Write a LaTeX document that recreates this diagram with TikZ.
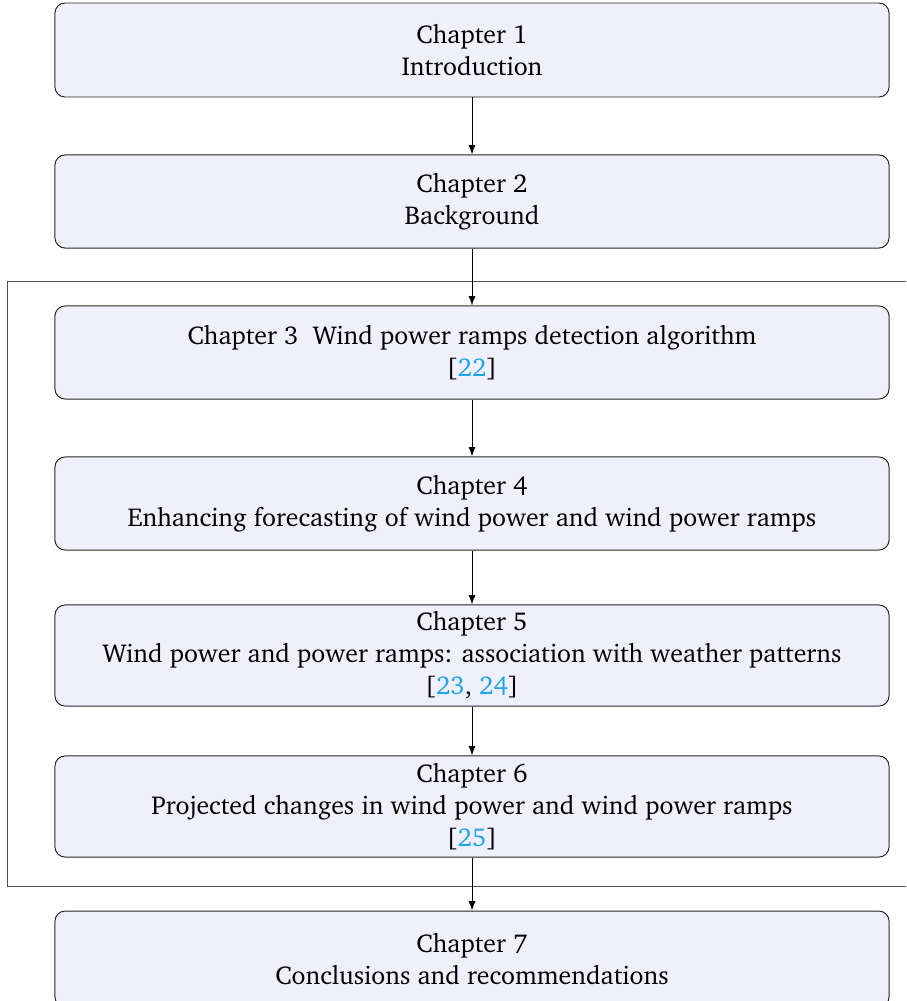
\documentclass[tikz,border=0pt]{standalone}
\usepackage[T1]{fontenc}
\usepackage{charter}
\usetikzlibrary{arrows.meta}
\definecolor{boxfill}{RGB}{240,240,252}
\definecolor{citecol}{RGB}{30,165,235}
\definecolor{framegray}{RGB}{80,80,80}
\newcommand\refnum[1]{\textcolor{citecol}{#1}}
\tikzset{
  chapbox/.style={draw=black!85, line width=0.42pt, fill=boxfill,
    rounded corners=4.3pt, minimum width=354.9pt, align=center,
    inner sep=0pt, font=\fontsize{11}{13.6}\selectfont},
  flow/.style={-{Latex[length=4pt,width=3pt]}, line width=0.42pt},
  framebox/.style={draw=framegray, line width=0.42pt}
}
\begin{document}
\begin{tikzpicture}[x=0.4255pt,y=-0.4255pt]
\useasboundingbox (0,0) rectangle (906,1001);
\clip (0,0) rectangle (906,1001);
% frame grouping the core chapters
\draw[framebox] (7,281) rectangle (940,886);
% chapter boxes
\node[chapbox, minimum height=40.0pt] (c1) at (472,50) {Chapter 1\\Introduction};
\node[chapbox, minimum height=39.6pt] (c2) at (472,201.5) {Chapter 2\\Background};
\node[chapbox, minimum height=39.6pt] (c3) at (472,352.5) {Chapter 3~ Wind power ramps detection algorithm\\{}[\refnum{22}]};
\node[chapbox, minimum height=39.6pt] (c4) at (472,503.5) {Chapter 4\\Enhancing forecasting of wind power and wind power ramps};
\node[chapbox, minimum height=43.0pt] (c5) at (472,655.5) {Chapter 5\\Wind power and power ramps: association with weather patterns\\{}[\refnum{23}, \refnum{24}]};
\node[chapbox, minimum height=43.0pt] (c6) at (472,806.5) {Chapter 6\\Projected changes in wind power and wind power ramps\\{}[\refnum{25}]};
\node[chapbox, minimum height=40.8pt] (c7) at (472,959) {Chapter 7\\Conclusions and recommendations};
% reading order
\draw[flow] (c1) -- (c2);
\draw[flow] (c2) -- (c3);
\draw[flow] (c3) -- (c4);
\draw[flow] (c4) -- (c5);
\draw[flow] (c5) -- (c6);
\draw[flow] (c6) -- (c7);
\end{tikzpicture}
\end{document}
